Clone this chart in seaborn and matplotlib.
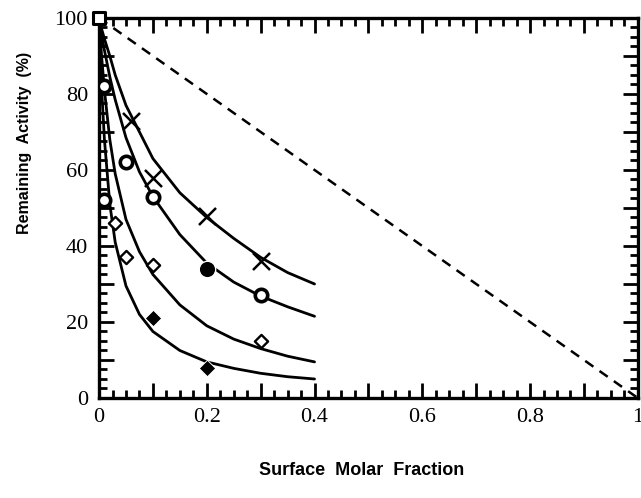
import pandas as pd
import matplotlib
matplotlib.use('Agg')
import matplotlib.pyplot as plt
from matplotlib.ticker import MultipleLocator, FuncFormatter
import seaborn as sns

# ======================================
# Data
# ======================================

curve_x = [0, 0.005, 0.01, 0.02, 0.03, 0.05, 0.075, 0.1, 0.15, 0.2, 0.25, 0.3, 0.35, 0.4]
curve_1 = [100, 97, 94.5, 90, 85, 77, 70, 63, 54, 47.5, 42, 37, 33, 30]
curve_2 = [100, 95.5, 91.5, 84.5, 78.5, 68.5, 59.5, 53, 43, 35.5, 30.5, 26.8, 24, 21.5]
curve_3 = [100, 89.5, 81, 68, 59, 47, 38.5, 32.5, 24.5, 19, 15.5, 13, 11, 9.5]
curve_4 = [100, 81, 68, 51, 41, 29.5, 22, 17.5, 12.5, 9.5, 7.8, 6.5, 5.6, 5]

ideal_x = [0, 1]
ideal_y = [100, 0]

cross_x = [0.06, 0.1, 0.2, 0.3]
cross_y = [73, 58, 48, 36]

open_circle_x = [0.01, 0.01, 0.05, 0.1, 0.3]
open_circle_y = [82, 52, 62, 53, 27]

filled_circle_x = [0.2]
filled_circle_y = [34]

open_diamond_x = [0.03, 0.05, 0.1, 0.3]
open_diamond_y = [46, 37, 35, 15]

filled_diamond_x = [0.1, 0.2]
filled_diamond_y = [21, 8]

square_x = [0]
square_y = [100]

# ======================================
# Build long table for the curves
# ======================================

curves = pd.concat([
    pd.DataFrame({'x': curve_x, 'y': vals, 'curve': name})
    for name, vals in [('c1', curve_1), ('c2', curve_2), ('c3', curve_3), ('c4', curve_4)]
])

# ======================================
# Plot
# ======================================

sns.set_style('ticks')
plt.rcParams['font.family'] = ['Liberation Serif', 'DejaVu Serif']
plt.rcParams['text.color'] = 'black'

fig = plt.figure(figsize=(6.41, 4.98), dpi=100)
ax = fig.add_axes([0.1545, 0.2008, 0.8405, 0.7632])

sns.lineplot(data=curves, x='x', y='y', units='curve', estimator=None,
             color='black', linewidth=2.0, ax=ax, sort=False)

sns.lineplot(x=ideal_x, y=ideal_y, color='black', linewidth=1.8,
             linestyle=(0, (4, 3)), ax=ax)

sns.scatterplot(x=cross_x, y=cross_y, marker='x', s=150, color='black',
                linewidth=1.8, ax=ax, zorder=5)
sns.scatterplot(x=open_circle_x, y=open_circle_y, marker='o', s=80,
                facecolor='white', edgecolor='black', linewidth=2.6, ax=ax, zorder=5)
sns.scatterplot(x=filled_circle_x, y=filled_circle_y, marker='o', s=140,
                color='black', ax=ax, zorder=5)
sns.scatterplot(x=open_diamond_x, y=open_diamond_y, marker='D', s=45,
                facecolor='white', edgecolor='black', linewidth=1.7, ax=ax, zorder=5)
sns.scatterplot(x=filled_diamond_x, y=filled_diamond_y, marker='D', s=70,
                color='black', ax=ax, zorder=5)
sns.scatterplot(x=square_x, y=square_y, marker='s', s=70,
                facecolor='white', edgecolor='black', linewidth=2.2, ax=ax,
                zorder=6, clip_on=False)

ax.set_xlim(0, 1)
ax.set_ylim(0, 100)

ax.xaxis.set_major_locator(MultipleLocator(0.1))
ax.xaxis.set_minor_locator(MultipleLocator(0.025))
ax.yaxis.set_major_locator(MultipleLocator(10))
ax.yaxis.set_minor_locator(MultipleLocator(2.5))


def fmt_x(v, pos):
    i = int(round(v * 10))
    if i % 2:
        return ''
    return '0' if i == 0 else ('1' if i == 10 else f'{v:.1f}')


def fmt_y(v, pos):
    i = int(round(v))
    return '' if (i // 10) % 2 else str(i)


ax.xaxis.set_major_formatter(FuncFormatter(fmt_x))
ax.yaxis.set_major_formatter(FuncFormatter(fmt_y))

ax.tick_params(which='both', direction='in', top=True, right=True,
               width=2, labelsize=16, colors='black')
ax.tick_params(which='major', length=11)
ax.tick_params(which='minor', length=6)
ax.tick_params(axis='y', which='major', pad=8)
ax.tick_params(axis='x', which='major', pad=7)

for sp in ax.spines.values():
    sp.set_linewidth(2.4)
    sp.set_color('black')

ax.set_xlabel('')
ax.set_ylabel('')

label_font = ['Liberation Sans', 'DejaVu Sans']
fig.text(0.5647, 1 - 470 / 498, 'Surface  Molar  Fraction', fontsize=13,
         fontweight='bold', family=label_font, ha='center', va='center',
         color='black')
fig.text(25 / 641, 1 - 143 / 498, 'Remaining  Activity  (%)', fontsize=11.5,
         fontweight='bold', family=label_font, ha='center', va='center',
         rotation=90, color='black')

plt.savefig('out.png', dpi=100)
